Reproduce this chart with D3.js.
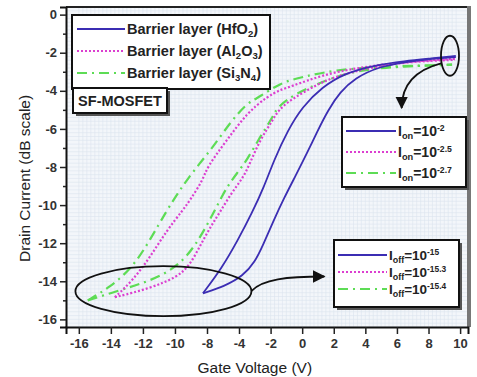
<!doctype html>
<html lang="en">
<head>
<meta charset="utf-8">
<script src="https://d3js.org/d3.v7.min.js"></script>
<style>
  body { margin: 0; background: #fff; }
  svg text { font-family: "Liberation Sans", Arial, sans-serif; }
</style>
</head>
<body>
<div id="chart"></div>
<script>
// tick labels as printed on the original chart (-6 is skipped there)
var xTicks = [-16, -14, -12, -10, -8, -4, -2, 0, 2, 4, 6, 8, 10];
var yTicks = [0, -2, -4, -6, -8, -10, -12, -14, -16];
var yMinorTicks = [-1, -3, -5, -7, -9, -11, -13, -15];

// each loop = forward (upper/left) branch and reverse (lower/right) branch, [Vg, log I]
var hfo2Left = [[-8.25, -14.63], [-6.13, -13.30], [-4.13, -11.83], [-3.18, -10.42], [-2.42, -9.05], [-1.78, -7.63],
  [-0.90, -6.06], [0.0, -4.85], [1.26, -3.80], [2.71, -3.07], [4.61, -2.65], [6.51, -2.44], [8.08, -2.31], [9.73, -2.17]];
var hfo2Right = [[-8.25, -14.63], [-5.75, -14.25], [-3.75, -13.72], [-2.99, -12.99], [-2.48, -12.10], [-1.85, -10.89],
  [-1.15, -9.63], [-0.39, -8.42], [0.31, -7.27], [0.94, -6.16], [1.64, -5.01], [2.40, -4.06], [3.35, -3.33],
  [4.80, -2.75], [6.51, -2.49], [8.08, -2.33], [9.73, -2.23]];

var al2o3Left = [[-13.75, -14.84], [-12.63, -13.95], [-11.56, -12.74], [-10.5, -11.32], [-9.5, -10.26], [-9.06, -9.74],
  [-8.25, -8.68], [-8.0, -8.0], [-5.5, -6.58], [-3.49, -5.16], [-2.23, -4.32], [-1.40, -3.95], [-0.77, -3.79],
  [1.32, -3.16], [3.47, -2.79], [6.64, -2.47], [9.68, -2.32]];
var al2o3Right = [[-13.75, -14.84], [-11.56, -14.37], [-9.88, -13.79], [-9.06, -13.16], [-8.38, -12.05], [-7.5, -11.1],
  [-6.38, -10.37], [-4.88, -9.32], [-3.75, -8.58], [-3.3, -7.79], [-2.67, -6.58], [-1.85, -5.53], [-1.40, -4.84],
  [0.30, -3.95], [1.95, -3.26], [4.49, -2.74], [6.83, -2.47], [9.68, -2.37]];

var si3n4Left = [[-15.44, -15.0], [-14.06, -14.32], [-12.63, -13.26], [-11.56, -11.84], [-10.5, -10.26], [-9.69, -9.21],
  [-9.25, -8.68], [-8.44, -7.79], [-7.25, -6.95], [-5.13, -5.68], [-3.49, -4.63], [-2.67, -4.32], [-1.40, -3.58],
  [0.05, -3.26], [2.21, -2.89], [4.93, -2.74], [7.46, -2.68], [9.49, -2.63]];
var si3n4Right = [[-15.44, -15.0], [-13.44, -14.47], [-12.0, -14.1], [-10.5, -13.58], [-9.25, -12.74], [-8.25, -11.47],
  [-6.38, -9.74], [-5.5, -9.05], [-4.25, -8.32], [-3.49, -7.63], [-2.67, -6.42], [-1.85, -5.37], [-1.59, -4.84],
  [-0.33, -4.11], [1.13, -3.58], [2.84, -3.05], [4.93, -2.79], [7.46, -2.68], [9.49, -2.63]];

var seriesColors = ["#3b2db3", "#dc3fd0", "#5ddc55"];
var seriesDash = [null, "2,2", "10,5,2,5"];
var barrierLabels = [
  [["Barrier layer (HfO", 0], ["2", 1], [")", -1]],
  [["Barrier layer (Al", 0], ["2", 1], ["O", -1], ["3", 1], [")", -1]],
  [["Barrier layer (Si", 0], ["3", 1], ["N", -1], ["4", 1], [")", -1]]
];
var ionExp = ["-2", "-2.5", "-2.7"];
var ioffExp = ["-15", "-15.3", "-15.4"];

var width = 477, height = 377;
var plot = { left: 66, right: 468, top: 7, bottom: 327 };

var svg = d3.select("#chart").append("svg")
  .attr("width", width).attr("height", height);

// piecewise scale so the printed labels land where they were on the original
var x = d3.scaleLinear()
  .domain([-16.8, -8, -4, 10.5])
  .range([plot.left, 207, 239, plot.right]);
var y = d3.scaleLinear()
  .domain([-16.4, 0.4])
  .range([plot.bottom, plot.top]);

var defs = svg.append("defs");
defs.append("clipPath").attr("id", "clip")
  .append("rect")
  .attr("x", plot.left).attr("y", plot.top)
  .attr("width", plot.right - plot.left).attr("height", plot.bottom - plot.top);

// background + fine grid
svg.append("rect")
  .attr("x", plot.left).attr("y", plot.top)
  .attr("width", plot.right - plot.left).attr("height", plot.bottom - plot.top)
  .attr("fill", "#f3f6fa");

var gx = [];
for (var i = 0; i < xTicks.length - 1; i++) {
  var a = xTicks[i], b = xTicks[i + 1];
  for (var k = 0; k < 8; k++) gx.push(a + (b - a) * k / 8);
}
var gy = d3.range(-16.4, 0.4, 0.2);
var grid = svg.append("g").attr("clip-path", "url(#clip)")
  .attr("stroke", "#dbe4ee").attr("stroke-width", 0.6);
grid.selectAll(".gx").data(gx).join("line")
  .attr("x1", d => x(d)).attr("x2", d => x(d))
  .attr("y1", plot.top).attr("y2", plot.bottom);
grid.selectAll(".gy").data(gy).join("line")
  .attr("y1", d => y(d)).attr("y2", d => y(d))
  .attr("x1", plot.left).attr("x2", plot.right);

// curves
var line = d3.line()
  .x(d => x(d[0])).y(d => y(d[1]))
  .curve(d3.curveBasis);

var loops = [[hfo2Left, hfo2Right], [al2o3Left, al2o3Right], [si3n4Left, si3n4Right]];
var curves = svg.append("g").attr("clip-path", "url(#clip)");
// draw green first, blue on top
[2, 1, 0].forEach(function (s) {
  loops[s].forEach(function (branch) {
    curves.append("path")
      .datum(branch)
      .attr("fill", "none")
      .attr("stroke", seriesColors[s])
      .attr("stroke-width", s == 0 ? 1.8 : 2.2)
      .attr("stroke-dasharray", seriesDash[s])
      .attr("d", line);
  });
});

// frame
svg.append("line")
  .attr("x1", plot.left).attr("x2", plot.right)
  .attr("y1", plot.top).attr("y2", plot.top)
  .attr("stroke", "#222").attr("stroke-width", 2);
svg.append("line")
  .attr("x1", plot.right + 1).attr("x2", plot.right + 1)
  .attr("y1", plot.top - 1).attr("y2", plot.bottom)
  .attr("stroke", "#777").attr("stroke-width", 4);

// axes
var fmt = d => String(d);
var yAxis = svg.append("g")
  .attr("transform", "translate(" + plot.left + ",0)")
  .call(d3.axisLeft(y).tickValues(yTicks).tickFormat(fmt).tickSize(6).tickPadding(3));
svg.append("g")
  .attr("transform", "translate(" + plot.left + ",0)")
  .call(d3.axisLeft(y).tickValues(yMinorTicks).tickFormat("").tickSize(3))
  .select(".domain").remove();
var xAxis = svg.append("g")
  .attr("transform", "translate(0," + plot.bottom + ")")
  .call(d3.axisBottom(x).tickValues(xTicks).tickFormat(fmt).tickSize(7).tickPadding(5));

[yAxis, xAxis].forEach(function (g) {
  g.select(".domain").attr("stroke", "#111").attr("stroke-width", 2);
  g.selectAll(".tick text")
    .attr("font-size", 13).attr("font-weight", "bold").attr("fill", "#333");
});
svg.selectAll(".tick line").attr("stroke", "#222").attr("stroke-width", 1.5);

svg.append("text")
  .attr("x", x(-3.0)).attr("y", 373)
  .attr("text-anchor", "middle")
  .attr("font-size", 15.5).attr("fill", "#222")
  .text("Gate Voltage (V)");
svg.append("text")
  .attr("transform", "translate(30," + y(-8.6) + ") rotate(-90)")
  .attr("text-anchor", "middle")
  .attr("font-size", 15.5).attr("fill", "#222")
  .text("Drain Current (dB scale)");

// helper: text with sub/superscripts; shift 1 = sub, -1 = back from sub, 2 = sup
function richText(g, tx, ty, parts, size) {
  var t = g.append("text").attr("x", tx).attr("y", ty)
    .attr("font-size", size).attr("font-weight", "bold").attr("fill", "#222");
  parts.forEach(function (p) {
    var sp = t.append("tspan").text(p[0]);
    if (p[1] == 1) sp.attr("dy", 3).attr("font-size", size * 0.66);
    if (p[1] == 2) sp.attr("dy", -5.5).attr("font-size", size * 0.62);
    if (p[1] == -1) sp.attr("dy", -3);
  });
  return t;
}

function box(bx, by, bw, bh, shadow) {
  if (shadow) {
    svg.append("rect").attr("x", bx + 3).attr("y", by + 3)
      .attr("width", bw).attr("height", bh).attr("fill", "#555");
  }
  svg.append("rect").attr("x", bx).attr("y", by)
    .attr("width", bw).attr("height", bh)
    .attr("fill", "#fff").attr("stroke", "#111").attr("stroke-width", 2);
}

// legend: barrier layers
box(72, 15, 198, 74, false);
var leg1 = svg.append("g");
barrierLabels.forEach(function (parts, s) {
  var ly = 29 + s * 22;
  leg1.append("line").attr("x1", 77).attr("x2", 125).attr("y1", ly).attr("y2", ly)
    .attr("stroke", seriesColors[s]).attr("stroke-width", 2.2)
    .attr("stroke-dasharray", seriesDash[s]);
  richText(leg1, 127, ly + 5, parts, 14.5);
});

// SF-MOSFET label
box(73, 88, 94, 25, true);
svg.append("text").attr("x", 120).attr("y", 106)
  .attr("text-anchor", "middle").attr("font-size", 14.5).attr("font-weight", "bold")
  .attr("fill", "#222").text("SF-MOSFET");

// legend: Ion
box(342, 117, 124, 70, true);
var leg2 = svg.append("g");
ionExp.forEach(function (e, s) {
  var ly = 131 + s * 21;
  leg2.append("line").attr("x1", 346).attr("x2", 396).attr("y1", ly).attr("y2", ly)
    .attr("stroke", seriesColors[s]).attr("stroke-width", 2.2)
    .attr("stroke-dasharray", seriesDash[s]);
  richText(leg2, 398, ly + 5, [["I", 0], ["on", 1], ["=10", -1], [e, 2]], 14);
});

// legend: Ioff
box(334, 240, 125, 67, true);
var leg3 = svg.append("g");
ioffExp.forEach(function (e, s) {
  var ly = 255 + s * 17;
  leg3.append("line").attr("x1", 338).attr("x2", 387).attr("y1", ly).attr("y2", ly)
    .attr("stroke", seriesColors[s]).attr("stroke-width", 2.2)
    .attr("stroke-dasharray", seriesDash[s]);
  richText(leg3, 389, ly + 5, [["I", 0], ["off", 1], ["=10", -1], [e, 2]], 13.5);
});

// annotations: ellipses + arrows
defs.append("marker")
  .attr("id", "head").attr("viewBox", "0 0 10 10")
  .attr("refX", 9).attr("refY", 5)
  .attr("markerWidth", 7).attr("markerHeight", 7)
  .attr("orient", "auto")
  .append("path").attr("d", "M0,0 L10,5 L0,10 z").attr("fill", "#111");

var ann = svg.append("g").attr("fill", "none").attr("stroke", "#111").attr("stroke-width", 1.8);
ann.append("ellipse")
  .attr("cx", x(9.36)).attr("cy", y(-2.16)).attr("rx", 9).attr("ry", 20);
ann.append("ellipse")
  .attr("cx", x(-10.72)).attr("cy", y(-14.52)).attr("rx", 88).attr("ry", 25);

ann.append("path")
  .attr("d", "M" + x(8.85) + "," + y(-2.55) +
    " C" + x(7.2) + "," + y(-2.9) + " " + x(6.3) + "," + y(-3.7) + " " + x(6.3) + "," + y(-4.9))
  .attr("marker-end", "url(#head)");
ann.append("path")
  .attr("d", "M" + x(-3.2) + "," + y(-14.5) +
    " C" + x(-2.5) + "," + y(-13.9) + " " + x(-1.0) + "," + y(-13.75) + " " + x(1.4) + "," + y(-13.75))
  .attr("marker-end", "url(#head)");
</script>
</body>
</html>
